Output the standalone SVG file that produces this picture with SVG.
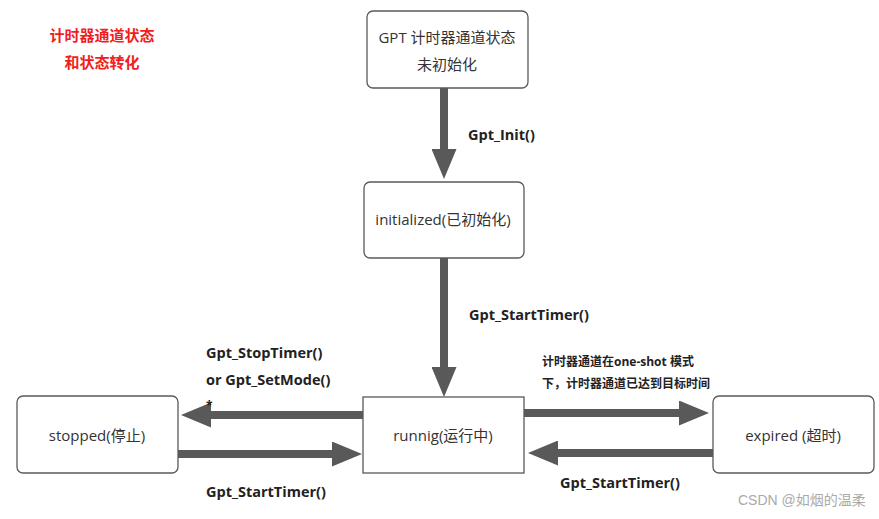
<svg xmlns="http://www.w3.org/2000/svg" width="879" height="519" viewBox="0 0 879 519">
<style>
.box{fill:#fff;stroke:#595959;stroke-width:1.3}
.nt{font-family:"Open Sans","Noto Sans CJK SC",sans-serif;font-size:15px;fill:#333;text-anchor:middle}
.lb{font-family:"Open Sans","Noto Sans CJK SC",sans-serif;font-size:14.5px;font-weight:bold;fill:#222}
.lbs{font-family:"Open Sans","Noto Sans CJK SC",sans-serif;font-size:12px;font-weight:bold;fill:#222}
.title{font-family:"Noto Sans CJK SC",sans-serif;font-size:15px;font-weight:bold;fill:#f01e1e;text-anchor:middle}
.ar{stroke:#595959;stroke-width:8;fill:none;marker-end:url(#ah)}
</style>
<defs>
<marker id="ah" viewBox="0 0 30 25" markerWidth="30" markerHeight="25" markerUnits="userSpaceOnUse" refX="1" refY="12.5" orient="auto">
<path d="M0,0 L30,12.5 L0,25 z" fill="#595959"/>
</marker>
</defs>
<rect width="879" height="519" fill="#fff"/>
<g id="title">
<text class="title" x="102" y="41">计时器通道状态</text>
<text class="title" x="102" y="68">和状态转化</text>
</g>
<g id="connectors">
<line class="ar" x1="444" y1="88" x2="444" y2="150"/>
<line class="ar" x1="444" y1="258" x2="444" y2="368"/>
<line class="ar" x1="363" y1="415" x2="210" y2="415"/>
<line class="ar" x1="178" y1="454" x2="333" y2="454"/>
<line class="ar" x1="524" y1="413" x2="680" y2="413"/>
<line class="ar" x1="713" y1="453" x2="557" y2="453"/>
<text class="lb" x="468" y="140">Gpt_Init()</text>
<text class="lb" x="469" y="320">Gpt_StartTimer()</text>
<text class="lb" x="206" y="358">Gpt_StopTimer()</text>
<text class="lb" x="206" y="385">or Gpt_SetMode()</text>
<text class="lbs" x="206" y="410" font-size="10">*</text>
<text class="lb" x="206" y="497">Gpt_StartTimer()</text>
<text class="lbs" x="542" y="366">计时器通道在one-shot 模式</text>
<text class="lbs" x="542" y="388">下，计时器通道已达到目标时间</text>
<text class="lb" x="560" y="488">Gpt_StartTimer()</text>
</g>
<g id="n_uninit">
<rect class="box" x="367" y="11" width="161" height="77" rx="6"/>
<text class="nt" x="447" y="43">GPT 计时器通道状态</text>
<text class="nt" x="447" y="70">未初始化</text>
</g>
<g id="n_init">
<rect class="box" x="364" y="182" width="160" height="76" rx="6"/>
<text class="nt" x="443" y="225">initialized(已初始化)</text>
</g>
<g id="n_running">
<rect class="box" x="363" y="397" width="161" height="76" rx="0"/>
<text class="nt" x="443" y="441">runnig(运行中)</text>
</g>
<g id="n_stopped">
<rect class="box" x="17" y="396" width="161" height="77" rx="6"/>
<text class="nt" x="97" y="441">stopped(停止)</text>
</g>
<g id="n_expired">
<rect class="box" x="713" y="396" width="161" height="77" rx="6"/>
<text class="nt" x="793" y="441">expired (超时)</text>
</g>
<text x="738" y="505" font-family="Liberation Sans,Noto Sans CJK SC,sans-serif" font-size="14" fill="#aaa">CSDN @如烟的温柔</text>
</svg>
